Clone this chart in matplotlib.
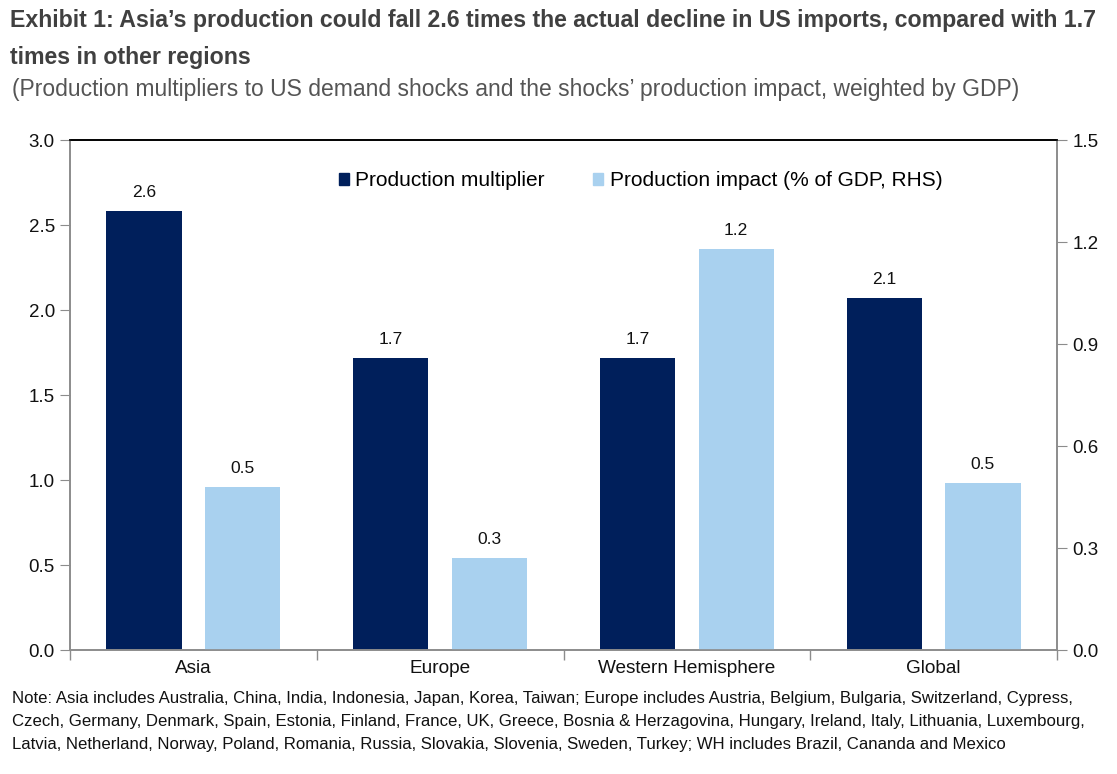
#!/usr/bin/env python3
import numpy as np
import matplotlib
matplotlib.use("Agg")
import matplotlib.pyplot as plt
from matplotlib.patches import Patch

regions     = ["Asia", "Europe", "Western Hemisphere", "Global"]
multiplier  = [2.58, 1.72, 1.72, 2.07]   # LHS
impact_gdp  = [0.48, 0.27, 1.18, 0.49]   # % of GDP, RHS
left_ticks  = [0.0, 0.5, 1.0, 1.5, 2.0, 2.5, 3.0]
right_ticks = [0.0, 0.3, 0.6, 0.9, 1.2, 1.5]

title = ("Exhibit 1: Asia\u2019s production could fall 2.6 times the actual decline in US imports, compared with 1.7\n"
         "times in other regions")
subtitle = "(Production multipliers to US demand shocks and the shocks\u2019 production impact, weighted by GDP)"
note = ("Note: Asia includes Australia, China, India, Indonesia, Japan, Korea, Taiwan; Europe includes Austria, Belgium, Bulgaria, Switzerland, Cypress,\n"
        "Czech, Germany, Denmark, Spain, Estonia, Finland, France, UK, Greece, Bosnia & Herzagovina, Hungary, Ireland, Italy, Lithuania, Luxembourg,\n"
        "Latvia, Netherland, Norway, Poland, Romania, Russia, Slovakia, Slovenia, Sweden, Turkey; WH includes Brazil, Cananda and Mexico")

NAVY  = "#001f5b"
LIGHT = "#a9d1ef"
GREY  = "#8c8c8c"
ARIAL = ["Liberation Sans", "DejaVu Sans"]

plt.rcParams["font.family"] = ARIAL

fig = plt.figure(figsize=(11.17, 7.74), dpi=100)
ax = fig.add_axes([0.0627, 0.1602, 0.8836, 0.6589])
ax2 = ax.twinx()

x = np.arange(len(regions))
w = 0.305
off = 0.2
b1 = ax.bar(x - off, multiplier, w, color=NAVY, zorder=2)
b2 = ax2.bar(x + off, impact_gdp, w, color=LIGHT, zorder=2)

ax.set_xlim(-0.5, len(regions) - 0.5)
ax.set_ylim(0, 3.0)
ax2.set_ylim(0, 1.5)
ax.set_yticks(left_ticks)
ax2.set_yticks(right_ticks)
ax.set_yticklabels([f"{t:.1f}" for t in left_ticks])
ax2.set_yticklabels([f"{t:.1f}" for t in right_ticks])

# category labels centred, ticks at the boundaries
ax.set_xticks(np.arange(len(regions) + 1) - 0.5)
ax.set_xticklabels([])
ax.set_xticks(x, minor=True)
ax.set_xticklabels(regions, minor=True, fontsize=13.7, color="#111111")
ax.tick_params(axis="x", which="minor", length=0, pad=7)
ax.tick_params(axis="x", which="major", length=7, color=GREY, width=1)

for a in (ax, ax2):
    for s in ("left", "right", "bottom"):
        a.spines[s].set_color(GREY)
        a.spines[s].set_linewidth(1.2)
    a.spines["top"].set_color("black")
    a.spines["top"].set_linewidth(1.2)
ax.tick_params(axis="y", length=7, color=GREY, labelsize=13.5, labelcolor="#111111", pad=4)
ax2.tick_params(axis="y", length=7, color=GREY, labelsize=13.5, labelcolor="#111111", pad=4)

for rect, v in zip(b1, multiplier):
    ax.annotate(f"{v:.1f}", (rect.get_x() + rect.get_width() / 2, v), xytext=(0, 8),
                textcoords="offset points", ha="center", va="bottom", fontsize=12.5, color="#111111")
for rect, v in zip(b2, impact_gdp):
    ax2.annotate(f"{v:.1f}", (rect.get_x() + rect.get_width() / 2, v), xytext=(0, 8),
                 textcoords="offset points", ha="center", va="bottom", fontsize=12.5, color="#111111")

handles = [Patch(color=NAVY), Patch(color=LIGHT)]
ax.legend(handles, ["Production multiplier", "Production impact (% of GDP, RHS)"],
          loc="center", bbox_to_anchor=(0.578, 0.92), ncol=2, frameon=False,
          fontsize=15, handlelength=0.5, handleheight=0.5, handletextpad=0.3,
          columnspacing=2.3)

fig.text(0.009, 0.988, title, ha="left", va="top", fontsize=16.7, fontweight="bold",
         color="#404040", linespacing=1.75)
fig.text(0.011, 0.884, subtitle, ha="left", va="center", fontsize=16.5,
         color="#555555")
fig.text(0.011, 0.1072, note, ha="left", va="top", fontsize=12.1,
         color="#111111", linespacing=1.65)

fig.savefig("out.png", dpi=100)
print("[plot] wrote out.png")
